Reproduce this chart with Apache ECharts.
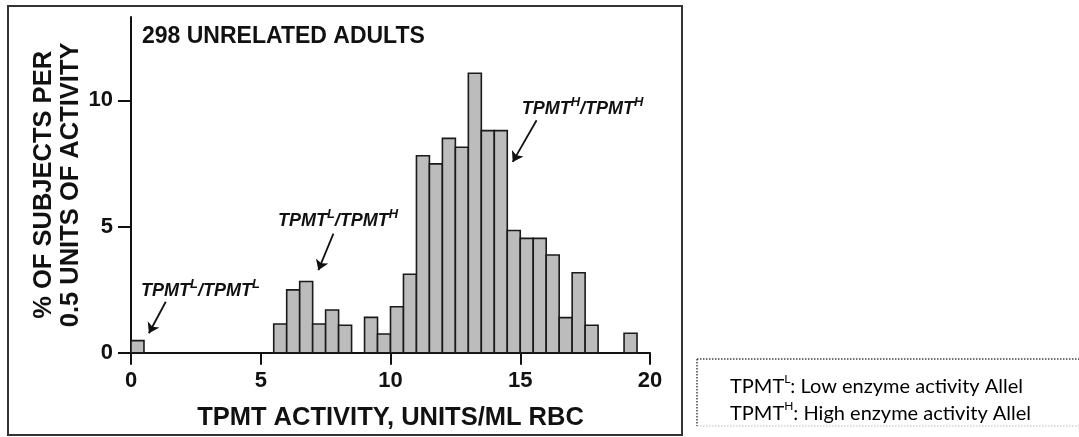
<!DOCTYPE html>
<html><head><meta charset="utf-8">
<script src="https://cdn.jsdelivr.net/npm/echarts@6/dist/echarts.min.js"></script>
<style>html,body{margin:0;padding:0;background:#fff}#c{width:1079px;height:437px}</style>
</head><body><div id="c"></div>
<script>
// ---- data ----
const binStart = [0, 5.5, 6, 6.5, 7, 7.5, 8, 9, 9.5, 10, 10.5, 11, 11.5, 12, 12.5, 13, 13.5, 14, 14.5, 15, 15.5, 16, 16.5, 17, 17.5, 19];
const binWidth = 0.5;
const pct = [0.48, 1.14, 2.49, 2.82, 1.14, 1.69, 1.09, 1.40, 0.74, 1.82, 3.11, 7.80, 7.48, 8.49, 8.14, 11.07, 8.80, 8.80, 4.84, 4.53, 4.53, 3.87, 1.39, 3.17, 1.09, 0.77];
const xTicks = [0, 5, 10, 15, 20];
const yTicks = [0, 5, 10];
const titleText = '298 UNRELATED ADULTS';
const xName = 'TPMT ACTIVITY, UNITS/ML RBC';
const yName = '% OF SUBJECTS PER\n0.5 UNITS OF ACTIVITY';
const genotypeLabels = ['{m|TPMT}{s|L}{m|/TPMT}{s|L}', '{m|TPMT}{s|L}{m|/TPMT}{s|H}', '{m|TPMT}{s|H}{m|/TPMT}{s|H}'];
// annotation anchors (data units)
const labelAt = [[2.68, 2.44], [7.98, 5.21], [17.4, 9.67]];
const arrowFrom = [[1.34, 2.02], [7.80, 4.72], [15.63, 9.21]];
const arrowTo = [[0.69, 0.77], [7.22, 3.27], [14.71, 7.56]];
const legendLines = ['{m|TPMT}{s|L}{m|: Low enzyme activity Allel}', '{m|TPMT}{s|H}{m|: High enzyme activity Allel}'];

const FONT = 'Liberation Sans, Arial, Helvetica, sans-serif';
const chart = echarts.init(document.getElementById('c'), null, {renderer: 'canvas'});
chart.setOption({
  animation: false,
  backgroundColor: '#fff',
  title: {
    text: titleText, left: 142, top: 25, padding: 0,
    textStyle: {fontFamily: FONT, fontSize: 23, fontWeight: 'bold', color: '#111'}
  },
  grid: {left: 131, top: 17, right: 429, bottom: 84.3, containLabel: false},
  xAxis: {
    type: 'value', min: xTicks[0], max: xTicks[xTicks.length - 1], interval: 5,
    name: xName, nameLocation: 'middle', nameGap: 52,
    nameTextStyle: {fontFamily: FONT, fontSize: 25.5, fontWeight: 'bold', color: '#111'},
    axisLine: {lineStyle: {color: '#111', width: 2}},
    axisTick: {length: 12, lineStyle: {color: '#111', width: 2}, customValues: xTicks},
    axisLabel: {fontFamily: FONT, fontSize: 22, fontWeight: 'bold', color: '#111', margin: 17, customValues: xTicks},
    splitLine: {show: false}
  },
  yAxis: {
    type: 'value', min: 0, max: 13.3,
    name: yName, nameLocation: 'middle', nameGap: 47, nameRotate: 90,
    nameTextStyle: {fontFamily: FONT, fontSize: 25.5, fontWeight: 'bold', color: '#111', lineHeight: 27},
    axisLine: {lineStyle: {color: '#111', width: 2}},
    axisTick: {length: 13, lineStyle: {color: '#111', width: 2}, customValues: yTicks},
    axisLabel: {fontFamily: FONT, fontSize: 22, fontWeight: 'bold', color: '#111', margin: 18, customValues: yTicks},
    splitLine: {show: false}
  },
  series: [
    {
      type: 'custom', coordinateSystem: 'cartesian2d',
      data: binStart.map((s, i) => [s, s + binWidth, pct[i]]),
      encode: {x: [0, 1], y: 2},
      renderItem: (params, api) => {
        const tl = api.coord([api.value(0), api.value(2)]);
        const br = api.coord([api.value(1), 0]);
        return {type: 'rect', shape: {x: tl[0], y: tl[1], width: br[0] - tl[0], height: br[1] - tl[1]},
          style: {fill: '#bcbcbc', stroke: '#1a1a1a', lineWidth: 1.6}};
      }
    },
    {
      type: 'lines', coordinateSystem: 'cartesian2d',
      data: arrowFrom.map((f, i) => ({coords: [f, arrowTo[i]]})),
      symbol: ['none', 'arrow'], symbolSize: 10,
      lineStyle: {color: '#111', width: 1.8, opacity: 1}
    },
    {
      type: 'scatter', symbolSize: 0, silent: true,
      itemStyle: {opacity: 1},
      data: labelAt.map((p, i) => ({value: p, label: {formatter: genotypeLabels[i]}})),
      label: {
        show: true, position: 'inside', align: 'center', verticalAlign: 'middle', opacity: 1,
        rich: {
          m: {fontFamily: FONT, fontSize: 18, fontWeight: 'bold', fontStyle: 'italic', color: '#111', lineHeight: 26},
          s: {fontFamily: FONT, fontSize: 13, fontWeight: 'bold', fontStyle: 'italic', color: '#111', lineHeight: 13, verticalAlign: 'top'}
        }
      }
    }
  ],
  graphic: [
    {type: 'rect', shape: {x: 8, y: 6, width: 674, height: 429}, style: {fill: 'none', stroke: '#333', lineWidth: 2}, silent: true},
    {type: 'line', shape: {x1: 697, y1: 359, x2: 1079, y2: 359}, style: {stroke: '#444', lineWidth: 1.5, lineDash: [1.5, 1.5]}},
    {type: 'line', shape: {x1: 697, y1: 359, x2: 697, y2: 426}, style: {stroke: '#444', lineWidth: 1.5, lineDash: [1.5, 1.5]}},
    {type: 'line', shape: {x1: 697, y1: 426, x2: 1079, y2: 426}, style: {stroke: '#bbb', lineWidth: 1, lineDash: [1.5, 1.5]}},
    {
      type: 'text', left: 730, top: 373,
      style: {
        text: legendLines.join('\n'),
        rich: {
          m: {fontFamily: 'Lato, sans-serif', fontSize: 20, color: '#000', lineHeight: 27},
          s: {fontFamily: 'Lato, sans-serif', fontSize: 12, color: '#000', lineHeight: 16, verticalAlign: 'top'}
        }
      }
    }
  ]
});
</script></body></html>
